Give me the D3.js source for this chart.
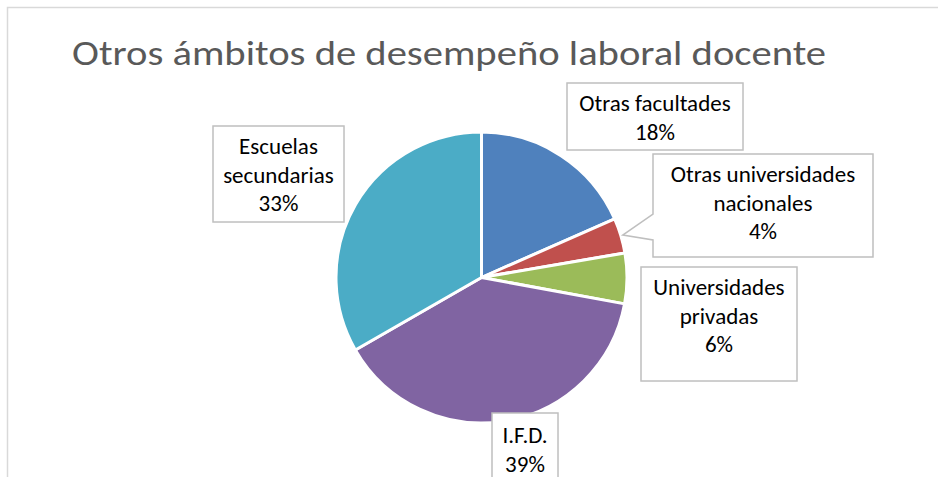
<!DOCTYPE html>
<html>
<head>
<meta charset="utf-8">
<script src="https://cdn.jsdelivr.net/npm/d3@7"></script>
<style>
  body { margin: 0; background: #fff; }
  svg { display: block; }
  text { font-family: Carlito, Calibri, Lato, "Noto Sans", sans-serif; }
</style>
</head>
<body>
<svg id="chart" width="938" height="477"></svg>
<script>
// Chart data
const title = "Otros ámbitos de desempeño laboral docente";
const categories = ["Otras facultades", "Otras universidades nacionales", "Universidades privadas", "I.F.D.", "Escuelas secundarias"];
const values = [18.4, 3.9, 5.6, 38.8, 33.3];
const colors = ["#4F81BD", "#C0504D", "#9BBB59", "#8064A2", "#4BACC6"];
// how each category label is broken into lines
const labelLines = [
    ["Otras facultades"],
    ["Otras universidades", "nacionales"],
    ["Universidades", "privadas"],
    ["I.F.D."],
    ["Escuelas", "secundarias"]
];

// label box layout: x, y, w, h
const boxes = [
    [567, 83, 176, 67],
    [653, 154, 220, 103],
    [641, 267, 156, 114],
    [492, 413, 66, 80],
    [213, 126, 131, 96]
];

const width = 938, height = 477;
const cx = 481.5, cy = 277.5, radius = 145.5;

const svg = d3.select("#chart");

// chart area border
svg.append("rect")
    .attr("x", 7.5).attr("y", 7.5)
    .attr("width", width + 10).attr("height", height + 10)
    .attr("fill", "none")
    .attr("stroke", "#D9D9D9")
    .attr("stroke-width", 1.5);

// title
svg.append("text")
    .attr("x", 449)
    .attr("y", 65)
    .attr("text-anchor", "middle")
    .attr("textLength", 754)
    .attr("lengthAdjust", "spacingAndGlyphs")
    .style("font-size", "34px")
    .style("font-weight", 300)
    .style("fill", "#595959")
    .text(title);

const total = d3.sum(values);
const pie = d3.pie().sort(null).value(d => d)(values);
const arc = d3.arc().innerRadius(0).outerRadius(radius);

const g = svg.append("g").attr("transform", `translate(${cx},${cy})`);
g.selectAll("path")
    .data(pie)
    .enter()
    .append("path")
    .attr("d", arc)
    .attr("fill", (d, i) => colors[i])
    .attr("stroke", "#fff")
    .attr("stroke-width", 3)
    .attr("stroke-linejoin", "round");

// data labels
const lineH = 28.5;
categories.forEach((c, i) => {
    const [bx, by, bw, bh] = boxes[i];
    const lg = svg.append("g");
    if (i === 1) {
        // callout box with pointer to the small slice
        const a = pie[i];
        const mid = (a.startAngle + a.endAngle) / 2;
        const px = cx + Math.sin(mid) * (radius + 2);
        const py = cy - Math.cos(mid) * (radius + 2);
        const path = `M${bx},${by} H${bx + bw} V${by + bh} H${bx} V${by + 86} L${px},${py} L${bx},${by + 60} Z`;
        lg.append("path")
            .attr("d", path)
            .attr("fill", "#fff")
            .attr("stroke", "#BFBFBF")
            .attr("stroke-width", 1.5);
    } else {
        lg.append("rect")
            .attr("x", bx).attr("y", by)
            .attr("width", bw).attr("height", bh)
            .attr("fill", "#fff")
            .attr("stroke", "#BFBFBF")
            .attr("stroke-width", 1.5);
    }
    const lines = labelLines[i].concat([Math.round(values[i] / total * 100) + "%"]);
    const tx = bx + bw / 2;
    const firstBase = (i === 3) ? by + 30 : by + 28;
    lines.forEach((t, j) => {
        lg.append("text")
            .attr("x", tx)
            .attr("y", firstBase + j * lineH)
            .attr("text-anchor", "middle")
            .style("font-size", "23px")
            .style("fill", "#000")
            .text(t);
    });
});
</script>
</body>
</html>
